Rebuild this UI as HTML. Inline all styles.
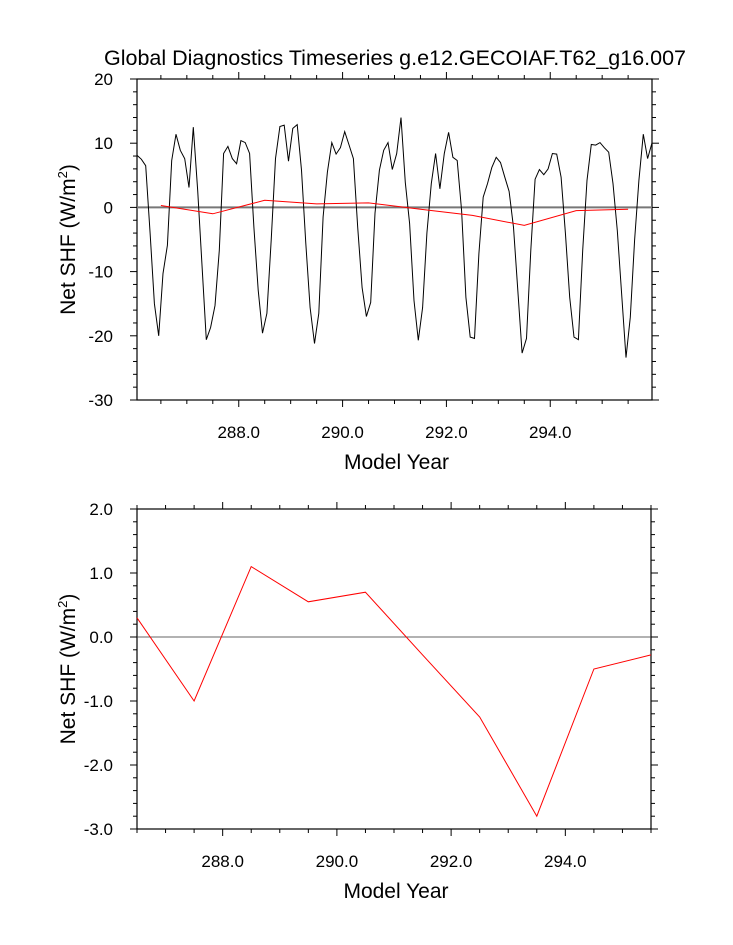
<!DOCTYPE html>
<html><head><meta charset="utf-8"><style>
body{margin:0;background:#fff;}
svg{display:block;font-family:"Liberation Sans",Arial,sans-serif;}
</style></head><body>
<svg id="c" width="733" height="945" viewBox="0 0 733 945" xmlns="http://www.w3.org/2000/svg">
<text x="395" y="65" font-size="21.5" text-anchor="middle">Global Diagnostics Timeseries g.e12.GECOIAF.T62_g16.007</text>
<g id="topPanel"></g>
<g id="botPanel"></g>
</svg>
<script>
const monthlyValues=[8.1,7.5,6.5,-4,-15,-20,-10.3,-5.9,7.3,11.4,8.9,7.6,3.1,12.5,2.6,-9,-20.6,-18.7,-15.3,-6.7,8.4,9.5,7.6,6.8,10.4,10.1,8.4,-3.1,-12.9,-19.6,-16.5,-5.1,7.6,12.6,12.8,7.2,12.3,12.9,5.8,-5.6,-15.6,-21.2,-16.5,-1.5,5.5,10.1,8.3,9.3,11.8,9.7,7.6,-3.1,-12.5,-17,-14.8,-0.9,5.8,8.9,10.1,5.9,8.4,14,3.9,-2.5,-14.5,-20.7,-15.6,-4,3.7,8.4,2.9,8.4,11.7,7.8,7.3,-0.5,-14,-20.2,-20.4,-7.2,1.6,3.7,6.2,7.8,7,4.7,2.5,-3.1,-12.9,-22.7,-20.4,-6.7,4.4,5.9,5.1,6,8.4,8.3,4.7,-4,-14,-20.2,-20.6,-6.7,4.2,9.8,9.7,10.1,9.3,8.6,3.7,-3.6,-13.4,-23.4,-17.1,-5.1,4.2,11.4,7.6,10];
const annualYears=[286.5,287.5,288.5,289.5,290.5,291.5,292.5,293.5,294.5,295.5];
const annualValues=[0.3,-1.0,1.1,0.55,0.7,-0.28,-1.25,-2.8,-0.5,-0.28];
const startYear=286;
const xTickLabels=["288.0","290.0","292.0","294.0"];
const xTickValues=[288,290,292,294];
const topYTicks=[20,10,0,-10,-20,-30];
const botYTicks=[2,1,0,-1,-2,-3];
const botYLabels=["2.0","1.0","0.0","-1.0","-2.0","-3.0"];

const NS="http://www.w3.org/2000/svg";
function mk(parent,tag,attrs){const e=document.createElementNS(NS,tag);for(const k in attrs)e.setAttribute(k,attrs[k]);parent.appendChild(e);return e;}

function panel(g,box,xd,yd,yTicks,yLabels,yMinor,xMinorStep){
  const L=box.l,R=box.r,T=box.t,B=box.b;
  const sx=v=>L+(v-xd[0])/(xd[1]-xd[0])*(R-L);
  const sy=v=>B-(v-yd[0])/(yd[1]-yd[0])*(B-T);
  const frame=mk(g,'rect',{x:L,y:T,width:R-L,height:B-T,fill:'none',stroke:'#000','stroke-width':1.2});
  
  
  const x0=Math.ceil(xd[0]/xMinorStep)*xMinorStep;
  for(let v=x0;v<=xd[1]+1e-9;v+=xMinorStep){
    const major=Math.abs(v/2-Math.round(v/2))<1e-6;
    const len=major?7:4,x=sx(v);
    mk(g,'line',{x1:x,x2:x,y1:B,y2:B+len,stroke:'#000','stroke-width':1});
    mk(g,'line',{x1:x,x2:x,y1:T,y2:T-len,stroke:'#000','stroke-width':1});
  }
  xTickValues.forEach((v,i)=>{
    const t=mk(g,'text',{x:sx(v),y:B+38,'font-size':17,'text-anchor':'middle'});
    t.textContent=xTickLabels[i];
    
    
  });
  for(let v=yd[0];v<=yd[1]+1e-9;v+=yMinor){
    const major=yTicks.some(m=>Math.abs(m-v)<1e-6);
    const len=major?7:4,y=sy(v);
    mk(g,'line',{x1:L,x2:L-len,y1:y,y2:y,stroke:'#000','stroke-width':1});
    mk(g,'line',{x1:R,x2:R+len,y1:y,y2:y,stroke:'#000','stroke-width':1});
  }
  yTicks.forEach((v,i)=>{
    const t=mk(g,'text',{x:L-24,y:sy(v)+6,'font-size':17,'text-anchor':'end'});
    t.textContent=yLabels[i];
    
    
  });
  const xt=mk(g,'text',{x:(L+R)/2+2,y:B+69,'font-size':21,'text-anchor':'middle'});
  xt.textContent='Model Year';
  
  
  const cy=(T+B)/2;
  const yt=mk(g,'text',{x:75,y:cy,'font-size':21,'text-anchor':'middle',transform:`rotate(-90 75 ${cy})`});
  yt.innerHTML='Net SHF (W/m<tspan font-size="13" dy="-8">2</tspan><tspan dy="8">)</tspan>';
  
  
  return {sx,sy};
}

const topG=document.getElementById('topPanel');
const A=panel(topG,{l:137,r:652,t:79,b:400},[286.04,295.96],[-30,20],topYTicks,topYTicks.map(String),2,0.5);
const z1=mk(topG,'line',{x1:137,x2:652,y1:A.sy(0),y2:A.sy(0),stroke:'#777','stroke-width':2});


const mpts=monthlyValues.map((v,i)=>A.sx(startYear+(i+0.5)/12).toFixed(1)+','+A.sy(v).toFixed(1)).join(' ');
const ml=mk(topG,'polyline',{points:mpts,fill:'none',stroke:'#000','stroke-width':1});


const apts=annualValues.map((v,i)=>A.sx(annualYears[i]).toFixed(1)+','+A.sy(v).toFixed(1)).join(' ');
const al=mk(topG,'polyline',{points:apts,fill:'none',stroke:'#f00','stroke-width':1});



const botG=document.getElementById('botPanel');
const Bp=panel(botG,{l:137,r:651,t:509,b:829},[286.5,295.5],[-3,2],botYTicks,botYLabels,0.2,0.5);
const z2=mk(botG,'line',{x1:137,x2:651,y1:Bp.sy(0),y2:Bp.sy(0),stroke:'#333','stroke-width':0.8});


const bpts=annualValues.map((v,i)=>Bp.sx(annualYears[i]).toFixed(1)+','+Bp.sy(v).toFixed(1)).join(' ');
const bl=mk(botG,'polyline',{points:bpts,fill:'none',stroke:'#f00','stroke-width':1});


</script>
</body></html>
